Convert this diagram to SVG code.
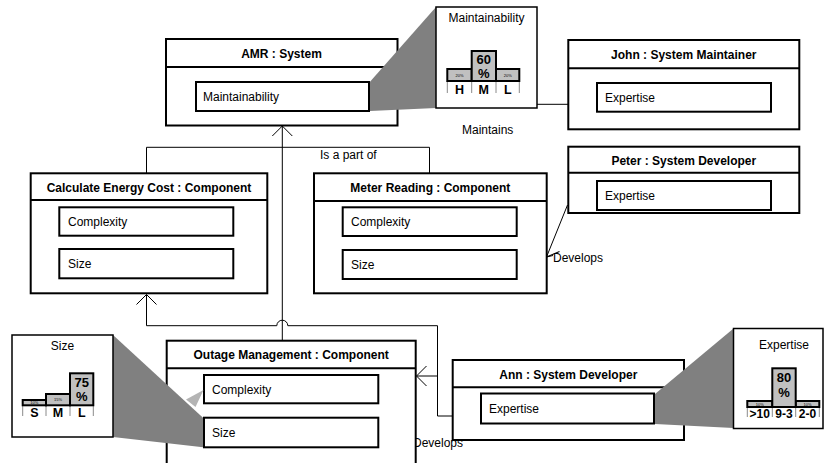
<svg xmlns="http://www.w3.org/2000/svg" width="824" height="463" viewBox="0 0 824 463">
<style>
  text { font-family: "Liberation Sans", Arial, sans-serif; fill: #000; }
  .title { font-size: 12px; font-weight: bold; text-anchor: middle; }
  .lbl { font-size: 12px; }
  .outer { fill: #fff; stroke: #000; stroke-width: 2; }
  .div { stroke: #000; stroke-width: 2; }
  .inner { fill: #fff; stroke: #000; stroke-width: 2; }
  .conn { fill: none; stroke: #000; stroke-width: 1; }
  .wedge { fill: #808080; stroke: none; }
  .callout { fill: #fff; stroke: #000; stroke-width: 1.5; }
  .bar { fill: #c0c0c0; stroke: #000; stroke-width: 2; }
  .tick { stroke: #8a8a8a; stroke-width: 1; }
  .pct { font-size: 13px; font-weight: bold; text-anchor: middle; }
  .axis { font-size: 12.5px; font-weight: bold; text-anchor: middle; }
  .axis2 { font-size: 12px; font-weight: bold; text-anchor: middle; }
  .tiny { font-size: 4px; text-anchor: middle; }
  .ctitle { font-size: 12px; text-anchor: middle; }
</style>
<defs>
  <marker id="open" viewBox="-11 -11 12 22" refX="0" refY="0" markerWidth="12" markerHeight="22" markerUnits="userSpaceOnUse" orient="auto">
    <path d="M-10,-10 L0,0 L-10,10" fill="none" stroke="#000" stroke-width="1"/>
  </marker>
</defs>
<rect width="824" height="463" fill="#fff"/>

<g id="connectors">
  <path class="conn" d="M282.3,341 V126" marker-end="url(#open)"/>
  <path class="conn" d="M146.5,173 V147.3 H429.5 V173"/>
  <path class="conn" d="M453,416 H437.5 V325.7 H287.8 A5.5,5.5 0 0 0 276.8,325.7 H146.5 V294.5" marker-end="url(#open)"/>
  <path class="conn" d="M437.5,376 H416.5" marker-end="url(#open)"/>
  <path class="conn" d="M567.5,205 L546.5,257" marker-end="url(#open)"/>
  <path class="conn" d="M546.5,257 L553,255.5"/>
  <path class="conn" d="M537,104.3 H568"/>
  <text class="lbl" x="320" y="159">Is a part of</text>
  <text class="lbl" x="462" y="134">Maintains</text>
  <text class="lbl" x="553" y="262">Develops</text>
  <text class="lbl" x="413" y="447">Develops</text>
</g>

<g id="amr">
  <rect class="outer" x="166" y="39" width="231.5" height="86.5"/>
  <line class="div" x1="166" y1="67" x2="397.5" y2="67"/>
  <text class="title" x="281.5" y="57.5">AMR : System</text>
  <rect class="inner" x="196" y="82" width="173" height="29"/>
  <text class="lbl" x="203" y="101">Maintainability</text>
</g>

<g id="john">
  <rect class="outer" x="568.3" y="40" width="231" height="89.3"/>
  <line class="div" x1="568.3" y1="68.3" x2="799.3" y2="68.3"/>
  <text class="title" x="683.8" y="58.5">John : System Maintainer</text>
  <rect class="inner" x="597" y="83" width="174" height="28.7"/>
  <text class="lbl" x="605" y="102">Expertise</text>
</g>

<g id="peter">
  <rect class="outer" x="568.3" y="146.7" width="231" height="66.3"/>
  <line class="div" x1="568.3" y1="172.7" x2="799.3" y2="172.7"/>
  <text class="title" x="683.8" y="165">Peter : System Developer</text>
  <rect class="inner" x="597" y="181" width="174" height="29"/>
  <text class="lbl" x="605" y="200">Expertise</text>
</g>

<g id="calc">
  <rect class="outer" x="30.7" y="173.3" width="236.6" height="120"/>
  <line class="div" x1="30.7" y1="200" x2="267.3" y2="200"/>
  <text class="title" x="149" y="191.5">Calculate Energy Cost : Component</text>
  <rect class="inner" x="59.3" y="207.3" width="174" height="28.4"/>
  <text class="lbl" x="68" y="226">Complexity</text>
  <rect class="inner" x="59.3" y="249" width="174" height="29.3"/>
  <text class="lbl" x="68" y="268">Size</text>
</g>

<g id="meter">
  <rect class="outer" x="314" y="173.3" width="232.7" height="120"/>
  <line class="div" x1="314" y1="201" x2="546.7" y2="201"/>
  <text class="title" x="430.3" y="191.5">Meter Reading : Component</text>
  <rect class="inner" x="342.7" y="207.3" width="174" height="28.7"/>
  <text class="lbl" x="351" y="226">Complexity</text>
  <rect class="inner" x="342.7" y="250" width="174" height="29"/>
  <text class="lbl" x="351" y="269">Size</text>
</g>

<g id="outage">
  <rect class="outer" x="166.7" y="340.7" width="249" height="130"/>
  <line class="div" x1="166.7" y1="368.3" x2="415.7" y2="368.3"/>
  <text class="title" x="291.2" y="359">Outage Management : Component</text>
  <rect class="inner" x="204" y="375" width="174.3" height="28.3"/>
  <text class="lbl" x="212" y="394">Complexity</text>
  <rect class="inner" x="204" y="417.7" width="174.3" height="29.6"/>
  <text class="lbl" x="212" y="437">Size</text>
</g>

<g id="ann">
  <rect class="outer" x="452.7" y="360" width="231.3" height="80"/>
  <line class="div" x1="452.7" y1="387.3" x2="684" y2="387.3"/>
  <text class="title" x="568.3" y="378.5">Ann : System Developer</text>
  <rect class="inner" x="481" y="393.5" width="173" height="30"/>
  <text class="lbl" x="489" y="413">Expertise</text>
</g>

<g id="maintainability-callout">
  <polygon class="wedge" points="370,81.7 436,7 436,108 370,111"/>
  <rect class="callout" x="436" y="7" width="101" height="101"/>
  <text class="ctitle" x="486.5" y="21.5">Maintainability</text>
  <line class="tick" x1="447.3" y1="81" x2="447.3" y2="93"/>
  <line class="tick" x1="471.7" y1="81" x2="471.7" y2="93"/>
  <line class="tick" x1="496" y1="81" x2="496" y2="93"/>
  <line class="tick" x1="519.3" y1="81" x2="519.3" y2="93"/>
  <rect class="bar" x="447.3" y="69" width="24.4" height="12"/>
  <rect class="bar" x="496" y="69" width="23.3" height="12"/>
  <rect class="bar" x="471.7" y="51" width="24.3" height="30"/>
  <text class="tiny" x="459.5" y="76.5">20%</text>
  <text class="tiny" x="507.7" y="76.5">20%</text>
  <text class="pct" x="483.8" y="63.5">60</text>
  <text class="pct" x="483.8" y="77.5">%</text>
  <text class="axis" x="459.5" y="93.5">H</text>
  <text class="axis" x="483.8" y="93.5">M</text>
  <text class="axis" x="507.7" y="93.5">L</text>
</g>

<g id="size-callout">
  <polygon class="wedge" points="113,335 203,417.7 203,447.3 113,437"/>
  <polygon fill="#b4b4b4" points="203.5,390 186,399.5 195.5,407"/>
  <rect class="callout" x="12" y="335" width="101" height="102"/>
  <text class="ctitle" x="62.5" y="350">Size</text>
  <line class="tick" x1="22.7" y1="405" x2="22.7" y2="416"/>
  <line class="tick" x1="46" y1="405" x2="46" y2="416"/>
  <line class="tick" x1="70" y1="405" x2="70" y2="416"/>
  <line class="tick" x1="93.3" y1="405" x2="93.3" y2="416"/>
  <rect class="bar" x="22.7" y="400" width="23.3" height="5.3"/>
  <rect class="bar" x="46" y="394" width="24" height="11.3"/>
  <rect class="bar" x="70" y="373.3" width="23.3" height="32"/>
  <text class="tiny" x="34.3" y="404">10%</text>
  <text class="tiny" x="58" y="401">15%</text>
  <text class="pct" x="81.7" y="386.5">75</text>
  <text class="pct" x="81.7" y="401">%</text>
  <text class="axis" x="34.3" y="417">S</text>
  <text class="axis" x="58" y="417">M</text>
  <text class="axis" x="81.7" y="417">L</text>
</g>

<g id="expertise-callout">
  <polygon class="wedge" points="655,394 733.5,328.5 733.5,428 655,424"/>
  <rect class="callout" x="733.5" y="328.5" width="89.5" height="100"/>
  <text class="ctitle" x="784" y="349">Expertise</text>
  <line class="tick" x1="747.3" y1="407" x2="747.3" y2="417"/>
  <line class="tick" x1="772.3" y1="407" x2="772.3" y2="417"/>
  <line class="tick" x1="795.7" y1="407" x2="795.7" y2="417"/>
  <line class="tick" x1="819.3" y1="407" x2="819.3" y2="417"/>
  <rect class="bar" x="747.3" y="401" width="25" height="6"/>
  <rect class="bar" x="795.7" y="401" width="23.6" height="6"/>
  <rect class="bar" x="772.3" y="368.3" width="23.4" height="38.7"/>
  <text class="tiny" x="759.8" y="405.5">10%</text>
  <text class="tiny" x="807.5" y="405.5">10%</text>
  <text class="pct" x="784" y="382">80</text>
  <text class="pct" x="784" y="397">%</text>
  <text class="axis2" x="759.8" y="417.5">&gt;10</text>
  <text class="axis2" x="784" y="417.5">9-3</text>
  <text class="axis2" x="807.5" y="417.5">2-0</text>
</g>
</svg>
